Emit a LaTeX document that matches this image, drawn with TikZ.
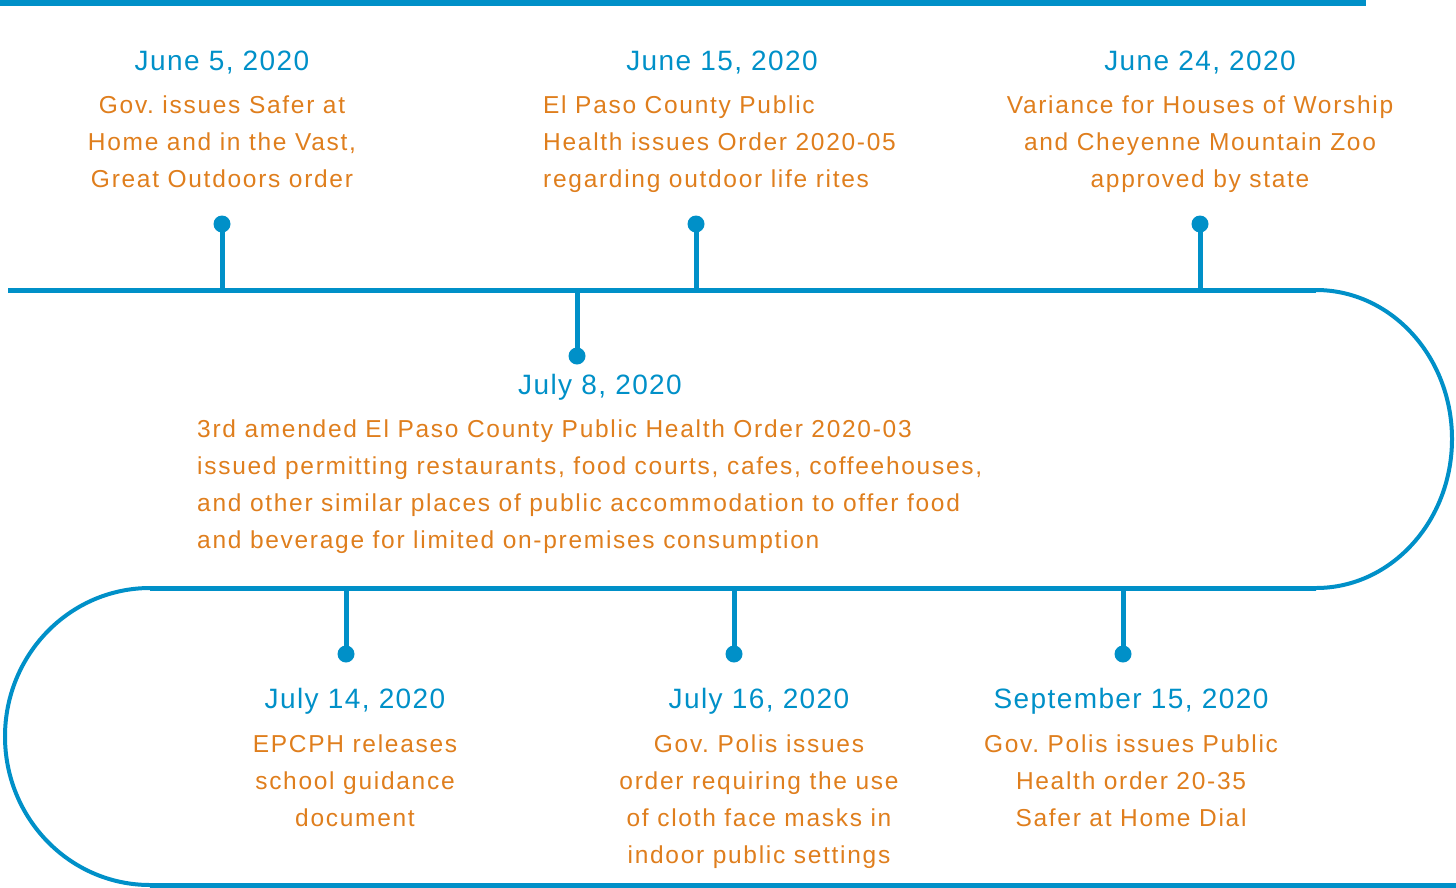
\documentclass[tikz,border=0pt]{standalone}
\usepackage{fontspec}
\newfontfamily\datefont[LetterSpace=5]{Liberation Sans}
\newfontfamily\bodyfont[LetterSpace=7]{Liberation Sans}
\definecolor{tblue}{HTML}{0090C8}
\definecolor{torange}{HTML}{DF7E1D}
\frenchspacing
\begin{document}
\begin{tikzpicture}[x=1pt,y=-1pt,
  datelbl/.style={font=\datefont\fontsize{28}{32}\selectfont, text=tblue, anchor=base, inner sep=0pt},
  desctext/.style={font=\bodyfont\fontsize{24.5}{37}\selectfont\frenchspacing, text=torange, inner sep=0pt, align=center, anchor=north},
  dotnode/.style={circle, fill=tblue, minimum size=17pt, inner sep=0pt},
  stem/.style={draw=tblue, line width=5pt},
  track/.style={draw=tblue, line width=5pt},
  curve/.style={draw=tblue, line width=4pt}]
\useasboundingbox (0,0) rectangle (1456,887);
% top bar
\fill[tblue] (0,0) rectangle (1366,6);
% track
\coordinate (l1s) at (8,290);
\coordinate (l1e) at (1316,290);
\coordinate (l2e) at (1316,588);
\coordinate (l2s) at (150,588);
\coordinate (l3s) at (150,885);
\coordinate (l3e) at (1456,885);
\draw[track] (l1s) -- (l1e);
\draw[curve] (l1e) arc[start angle=90, end angle=-90, x radius=136pt, y radius=149pt];
\draw[track] (l2e) -- (l2s);
\draw[curve] (l2s) arc[start angle=90, end angle=270, x radius=145pt, y radius=148.5pt];
\draw[track] (l3s) -- (l3e);
% stems base points
\coordinate (b1) at (222,290);
\coordinate (b2) at (696,290);
\coordinate (b3) at (1200,290);
\coordinate (b4) at (577,290);
\coordinate (b5) at (346,588);
\coordinate (b6) at (734,588);
\coordinate (b7) at (1123,588);
% dots
\node[dotnode] (d1) at (222,224) {};
\node[dotnode] (d2) at (696,224) {};
\node[dotnode] (d3) at (1200,224) {};
\node[dotnode] (d4) at (577,356) {};
\node[dotnode] (d5) at (346,654) {};
\node[dotnode] (d6) at (734,654) {};
\node[dotnode] (d7) at (1123,654) {};
\foreach \i in {1,...,7} {\draw[stem] (b\i) -- (d\i.center);}
% labels
\node[datelbl] (t1) at (222,70) {June 5, 2020};
\node[desctext] (x1) at (222,96) {Gov. issues Safer at\\Home and in the Vast,\\Great Outdoors order};
\node[datelbl] (t2) at (722,70) {June 15, 2020};
\node[desctext, anchor=north west, align=left] (x2) at (543,96) {El Paso County Public\\Health issues Order 2020-05\\regarding outdoor life rites};
\node[datelbl] (t3) at (1200,70) {June 24, 2020};
\node[desctext] (x3) at (1200,96) {Variance for Houses of Worship\\and Cheyenne Mountain Zoo\\approved by state};
\node[datelbl] (t4) at (600,394) {July 8, 2020};
\node[desctext, anchor=north west, align=left] (x4) at (197,420) {3rd amended El Paso County Public Health Order 2020-03\\issued permitting restaurants, food courts, cafes, coffeehouses,\\and other similar places of public accommodation to offer food\\and beverage for limited on-premises consumption};
\node[datelbl] (t5) at (355,708) {July 14, 2020};
\node[desctext] (x5) at (355,735) {EPCPH releases\\school guidance\\document};
\node[datelbl] (t6) at (759,708) {July 16, 2020};
\node[desctext] (x6) at (759,735) {Gov. Polis issues\\order requiring the use\\of cloth face masks in\\indoor public settings};
\node[datelbl] (t7) at (1131,708) {September 15, 2020};
\node[desctext] (x7) at (1131,735) {Gov. Polis issues Public\\Health order 20-35\\Safer at Home Dial};
\end{tikzpicture}
\end{document}
